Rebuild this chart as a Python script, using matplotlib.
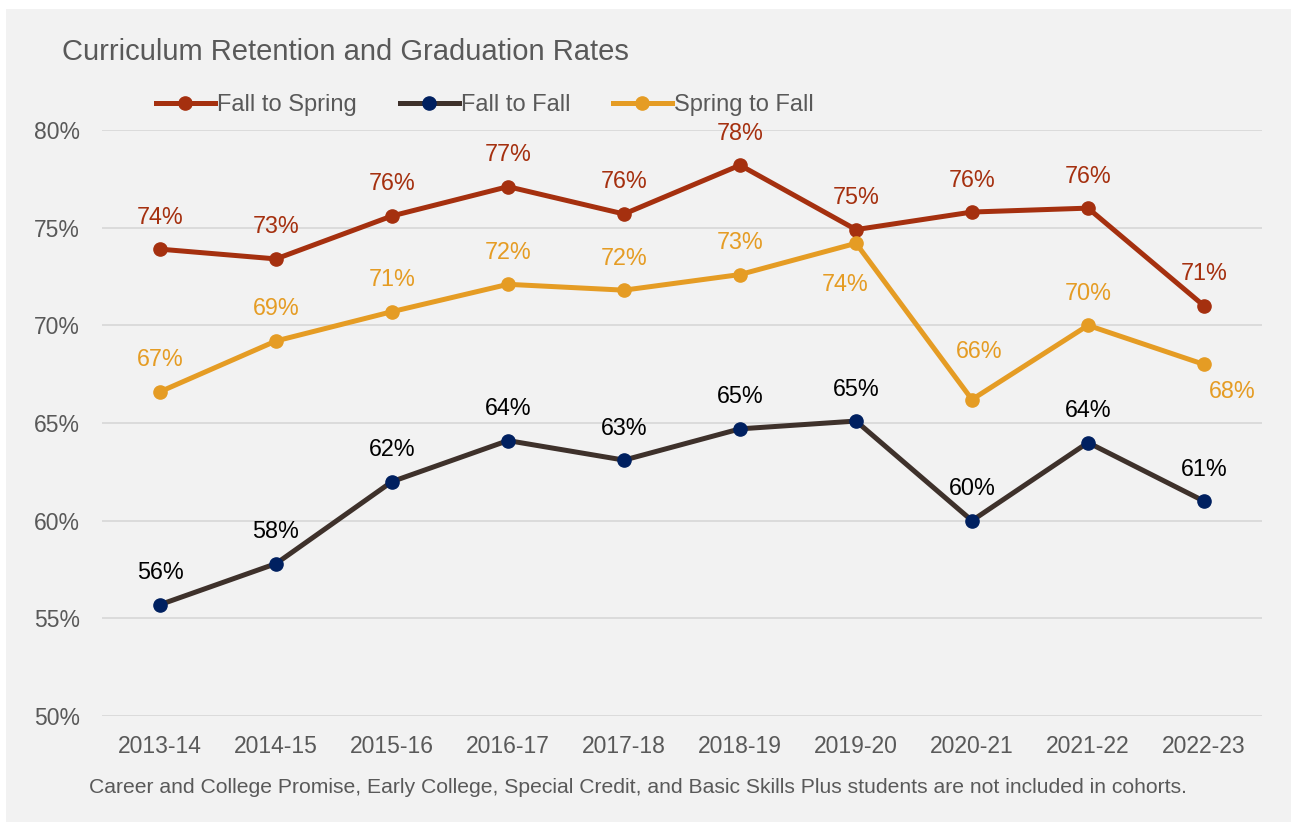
import matplotlib as mpl
mpl.use("Agg")
import matplotlib.pyplot as plt
from matplotlib.patches import Rectangle

years = ["2013-14", "2014-15", "2015-16", "2016-17", "2017-18",
         "2018-19", "2019-20", "2020-21", "2021-22", "2022-23"]

fall_to_spring = [73.9, 73.4, 75.6, 77.1, 75.7, 78.2, 74.9, 75.8, 76.0, 71.0]
fall_to_fall = [55.7, 57.8, 62.0, 64.1, 63.1, 64.7, 65.1, 60.0, 64.0, 61.0]
spring_to_fall = [66.6, 69.2, 70.7, 72.1, 71.8, 72.6, 74.2, 66.2, 70.0, 68.0]

yticks = [50, 55, 60, 65, 70, 75, 80]

mpl.rcParams.update({
    "font.family": ["Liberation Sans", "DejaVu Sans"],
    "font.size": 16,
})

BG = "#F2F2F2"
GREY_TXT = "#595959"

series = [
    ("Fall to Spring", fall_to_spring,
     dict(color="#A5300F", mfc="#A5300F", mec="#A5300F"), "#A5300F"),
    ("Fall to Fall", fall_to_fall,
     dict(color="#3E312B", mfc="#002060", mec="#002060"), "#000000"),
    ("Spring to Fall", spring_to_fall,
     dict(color="#E59C24", mfc="#E59C24", mec="#E59C24"), "#E59C24"),
]

# label offsets (pixels) where the label isn't simply above the point
offsets = {
    ("Spring to Fall", 6): (-11, -41),
    ("Spring to Fall", 7): (7, 48),
    ("Spring to Fall", 9): (28, -27),
}

fig = plt.figure(figsize=(12.91, 8.22), dpi=100, facecolor="white")
fig.patches.append(Rectangle((6 / 1291, 0), 1 - 6 / 1291, 1 - 9 / 822,
                             transform=fig.transFigure, facecolor=BG,
                             edgecolor="none", zorder=-10))

ax = fig.add_axes([102 / 1291, 1 - 716 / 822, 1160 / 1291, 586 / 822])
ax.set_facecolor(BG)
x = list(range(len(years)))

for name, vals, style, lblcol in series:
    ax.plot(x, vals, marker="o", linewidth=3.6, markersize=9.5,
            label=name, zorder=3, **style)
    for i, v in enumerate(vals):
        dx, dy = offsets.get((name, i), (0, 32))
        ax.annotate(f"{round(v):.0f}%", (i, v), xytext=(dx, dy),
                    textcoords="offset pixels", ha="center", va="center",
                    color=lblcol, fontsize=16.8, zorder=4)

ax.set_xlim(-0.5, len(years) - 0.5)
ax.set_ylim(50, 80)
ax.set_yticks(yticks)
ax.set_yticklabels([f"{t}%" for t in yticks])
ax.set_xticks(x)
ax.set_xticklabels(years)
ax.tick_params(axis="both", length=0, colors=GREY_TXT, labelsize=16.5)
ax.tick_params(axis="y", pad=16)
ax.tick_params(axis="x", pad=14)
ax.grid(axis="y", color="#D9D9D9", linewidth=1.3, zorder=0)
for s in ax.spines.values():
    s.set_visible(False)

fig.legend(loc="center", bbox_to_anchor=(485 / 1291, 1 - 105 / 822),
           ncol=3, frameon=False, fontsize=17, handlelength=2.5,
           handletextpad=0.1, columnspacing=1.8, labelcolor=GREY_TXT)

fig.text(62 / 1291, 1 - 52 / 822, "Curriculum Retention and Graduation Rates",
         fontsize=21, color=GREY_TXT, ha="left", va="center")
fig.text(638 / 1291, 1 - 787 / 822,
         "Career and College Promise, Early College, Special Credit, and "
         "Basic Skills Plus students are not included in cohorts.",
         fontsize=15.2, color=GREY_TXT, ha="center", va="center")

fig.savefig("out.png", dpi=100, facecolor="white")
